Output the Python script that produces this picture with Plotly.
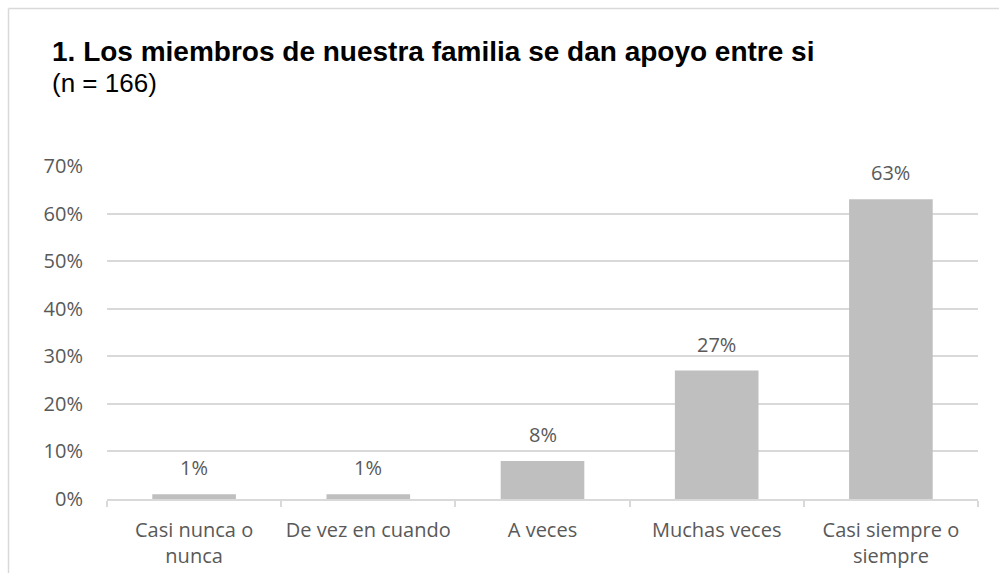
import plotly.graph_objects as go

# Survey item: family members support each other (n = 166)
categories = ["Casi nunca o nunca", "De vez en cuando", "A veces", "Muchas veces", "Casi siempre o siempre"]
tick_labels = ["Casi nunca o<br>nunca", "De vez en cuando", "A veces", "Muchas veces", "Casi siempre o<br>siempre"]
percent = [1, 1, 8, 27, 63]
y_ticks = [0, 10, 20, 30, 40, 50, 60, 70]

W, H = 999, 573
L, R, T, B = 107, 21, 166, 74
pw, ph = W - L - R, H - T - B


def px_x(px):
    return (px - L) / pw


def px_y(py):
    return (H - B - py) / ph


GRID = "#d9d9d9"
TXT = "#595959"
FONT = "Open Sans, DejaVu Sans, sans-serif"
TITLE_FONT = "Liberation Sans, Arial, sans-serif"

fig = go.Figure()
fig.add_trace(go.Bar(
    x=categories,
    y=percent,
    marker=dict(color="#bfbfbf", line=dict(width=0)),
    hoverinfo="skip",
))

# value labels above each bar
for c, v in zip(categories, percent):
    fig.add_annotation(
        x=c, y=v, xref="x", yref="y",
        text=f"{v}%", showarrow=False,
        yanchor="bottom", yshift=11,
        font=dict(family=FONT, size=20, color=TXT),
    )

# chart title and sample size
fig.add_annotation(
    x=px_x(50), y=px_y(52), xref="paper", yref="paper",
    xanchor="left", yanchor="middle", showarrow=False,
    text="<b>1. Los miembros de nuestra familia se dan apoyo entre si</b>",
    font=dict(family=TITLE_FONT, size=28, color="#000000"),
)
fig.add_annotation(
    x=px_x(50), y=px_y(83), xref="paper", yref="paper",
    xanchor="left", yanchor="middle", showarrow=False,
    text="(n = 166)",
    font=dict(family=TITLE_FONT, size=26, color="#000000"),
)

# chart frame (left and top edges)
fig.add_shape(type="line", xref="paper", yref="paper",
              x0=px_x(8.5), x1=px_x(8.5), y0=px_y(8.5), y1=px_y(H + 5),
              line=dict(color=GRID, width=1.5))
fig.add_shape(type="line", xref="paper", yref="paper",
              x0=px_x(8.5), x1=px_x(W + 5), y0=px_y(8.5), y1=px_y(8.5),
              line=dict(color=GRID, width=1.5))

fig.update_layout(
    width=W, height=H,
    margin=dict(l=L, r=R, t=T, b=B, autoexpand=False),
    paper_bgcolor="white",
    plot_bgcolor="white",
    bargap=0.52,
    showlegend=False,
    font=dict(family=FONT, size=20, color=TXT),
)
fig.update_xaxes(
    type="category",
    tickvals=categories,
    ticktext=tick_labels,
    tickangle=0,
    automargin=False,
    showline=True, linecolor=GRID, linewidth=2,
    ticks="outside", tickson="boundaries", ticklen=6, tickcolor=GRID, tickwidth=1.5,
    ticklabelstandoff=12,
    showgrid=False,
    tickfont=dict(family=FONT, size=20, color=TXT),
)
fig.update_yaxes(
    range=[0, 70],
    tickvals=y_ticks,
    ticktext=[f"{t}%" for t in y_ticks],
    automargin=False,
    showgrid=True, gridcolor=GRID, gridwidth=1.5,
    zeroline=False, showline=False,
    ticks="", ticklabelstandoff=23,
    tickfont=dict(family=FONT, size=20, color=TXT),
)

fig.write_html("out.html")
